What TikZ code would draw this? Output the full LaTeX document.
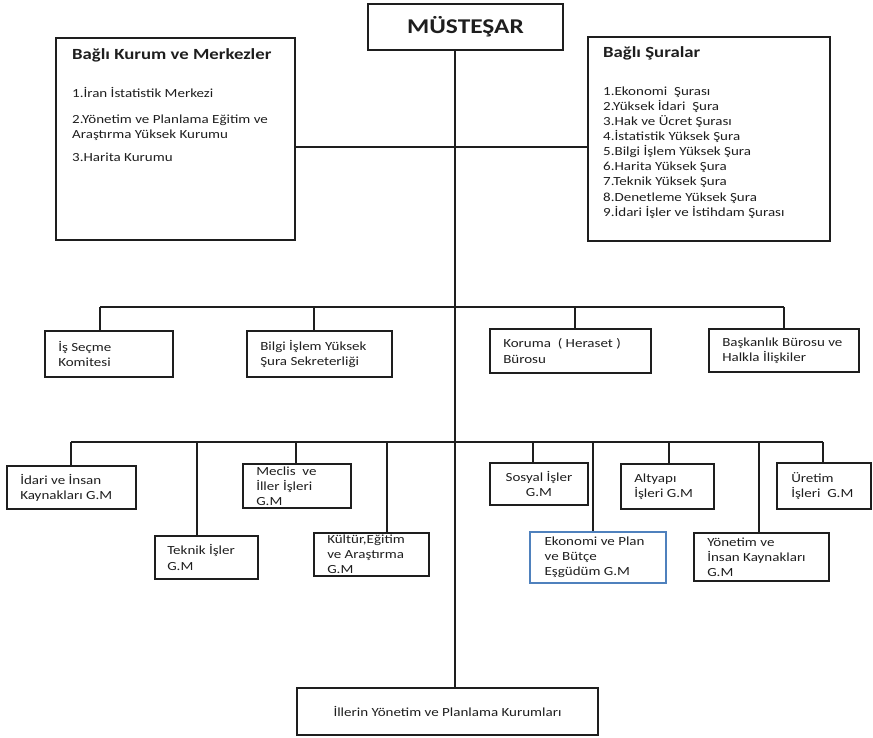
\documentclass[tikz,border=0pt]{standalone}
\usepackage{fontspec}
\setmainfont{Carlito}[FakeStretch=1.21]
\definecolor{ink}{RGB}{30,30,30}
\definecolor{bluebox}{RGB}{79,129,189}
\begin{document}
\begin{tikzpicture}[x=1pt,y=-1pt,
  box/.style={draw=ink, line width=1.9pt, rectangle, inner sep=0pt},
  txt/.style={anchor=west, align=left, inner sep=0pt, font=\fontsize{12.4}{15.1}\selectfont, text=ink},
  ctxt/.style={anchor=center, align=center, inner sep=0pt, font=\fontsize{12.4}{15.1}\selectfont, text=ink},
  ttl/.style={anchor=west, inner sep=0pt, font=\fontsize{15.5}{18}\selectfont\bfseries, text=ink},
  conn/.style={draw=ink, line width=1.9pt}]
\useasboundingbox (0,0) rectangle (873,738);

% top
\node[box, minimum width=195, minimum height=46, font=\fontsize{21}{24}\selectfont\bfseries, text=ink] (must) at (465.5,27) {MÜSTEŞAR};

% big side boxes
\node[box, minimum width=239, minimum height=202] (lb) at (175.5,139) {};
\node[box, minimum width=242, minimum height=204] (rb) at (709,139) {};
\node[ttl] (lbt) at (72,55) {Bağlı Kurum ve Merkezler};
\node[txt] (lb1) at (72,92) {1.İran İstatistik Merkezi};
\node[txt] (lb2) at (72,128) {2.Yönetim ve Planlama Eğitim ve\\Araştırma Yüksek Kurumu};
\node[txt] (lb3) at (72,157) {3.Harita Kurumu};
\node[ttl] (rbt) at (603,53) {Bağlı Şuralar};
\node[txt] (rbl) at (603,152.5) {1.Ekonomi~ Şurası\\2.Yüksek İdari~ Şura\\3.Hak ve Ücret Şurası\\4.İstatistik Yüksek Şura\\5.Bilgi İşlem Yüksek Şura\\6.Harita Yüksek Şura\\7.Teknik Yüksek Şura\\8.Denetleme Yüksek Şura\\9.İdari İşler ve İstihdam Şurası};

% row 2
\node[box, minimum width=128, minimum height=46] (iss) at (109,354) {};
\node[txt] (isst) at ([xshift=14]iss.west) {İş Seçme\\Komitesi};
\node[box, minimum width=145, minimum height=46] (bilgi) at (319.5,354) {};
\node[txt] (bilgit) at ([xshift=14]bilgi.west) {Bilgi İşlem Yüksek\\Şura Sekreterliği};
\node[box, minimum width=161, minimum height=44] (kor) at (570.5,351) {};
\node[txt] (kort) at ([xshift=14]kor.west) {Koruma~ ( Heraset )\\Bürosu};
\node[box, minimum width=150, minimum height=43] (bas) at (784,350.5) {};
\node[txt] (bast) at ([xshift=14]bas.west) {Başkanlık Bürosu ve\\Halkla İlişkiler};

% row 3
\node[box, minimum width=129, minimum height=43] (idari) at (71.5,487.5) {};
\node[txt] (idarit) at ([xshift=14]idari.west) {İdari ve İnsan\\Kaynakları G.M};
\node[box, minimum width=103, minimum height=43] (tek) at (206.5,557.5) {};
\node[txt] (tekt) at ([xshift=13]tek.west) {Teknik İşler\\G.M};
\node[box, minimum width=108, minimum height=44] (mec) at (297,486) {};
\node[txt] (mect) at ([xshift=14]mec.west) {Meclis~ ve\\İller İşleri\\G.M};
\node[box, minimum width=115, minimum height=43] (kul) at (371.5,554.5) {};
\node[txt] (kult) at ([xshift=14]kul.west) {Kültür,Eğitim\\ve Araştırma\\G.M};
\node[box, minimum width=98, minimum height=42] (sos) at (539,484) {};
\node[ctxt] (sost) at (sos.center) {Sosyal İşler\\G.M};
\node[box, draw=bluebox, line width=1.1pt, minimum width=136, minimum height=51] (eko) at (598,557.5) {};
\node[txt] (ekot) at ([xshift=15]eko.west) {Ekonomi ve Plan\\ve Bütçe\\Eşgüdüm G.M};
\node[box, minimum width=93, minimum height=45] (alt) at (667.5,486.5) {};
\node[txt] (altt) at ([xshift=14]alt.west) {Altyapı\\İşleri G.M};
\node[box, minimum width=135, minimum height=48] (yon) at (761.5,557) {};
\node[txt] (yont) at ([xshift=14]yon.west) {Yönetim ve\\İnsan Kaynakları\\G.M};
\node[box, minimum width=94, minimum height=46] (ure) at (824,486) {};
\node[txt] (uret) at ([xshift=15]ure.west) {Üretim\\İşleri~ G.M};

% bottom
\node[box, minimum width=301, minimum height=47] (bot) at (447.5,711.5) {};
\node[ctxt] (bott) at (bot.center) {İllerin Yönetim ve Planlama Kurumları};

% connector coordinates
\coordinate (sx) at (455,0);
\coordinate (h1) at (455,147);
\coordinate (a1) at (100,307);
\coordinate (a2) at (314,307);
\coordinate (a3) at (575,307);
\coordinate (a4) at (784,307);
\coordinate (b1) at (71,442);
\coordinate (b2) at (197,442);
\coordinate (b3) at (296,442);
\coordinate (b4) at (387,442);
\coordinate (b5) at (533,442);
\coordinate (b6) at (593,443);
\coordinate (b7) at (669,442);
\coordinate (b8) at (759,442);
\coordinate (b9) at (823,442);

% connectors
\draw[conn] (must.south -| sx) -- (bot.north -| sx);
\draw[conn] (lb.east |- h1) -- (rb.west |- h1);
\draw[conn] (a1) -- (a4);
\draw[conn] (a1) -- (iss.north -| a1);
\draw[conn] (a2) -- (bilgi.north -| a2);
\draw[conn] (a3) -- (kor.north -| a3);
\draw[conn] (a4) -- (bas.north -| a4);
\draw[conn] (b1) -- (b9);
\draw[conn] (b1) -- (idari.north -| b1);
\draw[conn] (b2) -- (tek.north -| b2);
\draw[conn] (b3) -- (mec.north -| b3);
\draw[conn] (b4) -- (kul.north -| b4);
\draw[conn] (b5) -- (sos.north -| b5);
\draw[conn] (b6) -- (eko.north -| b6);
\draw[conn] (b7) -- (alt.north -| b7);
\draw[conn] (b8) -- (yon.north -| b8);
\draw[conn] (b9) -- (ure.north -| b9);
\end{tikzpicture}
\end{document}
